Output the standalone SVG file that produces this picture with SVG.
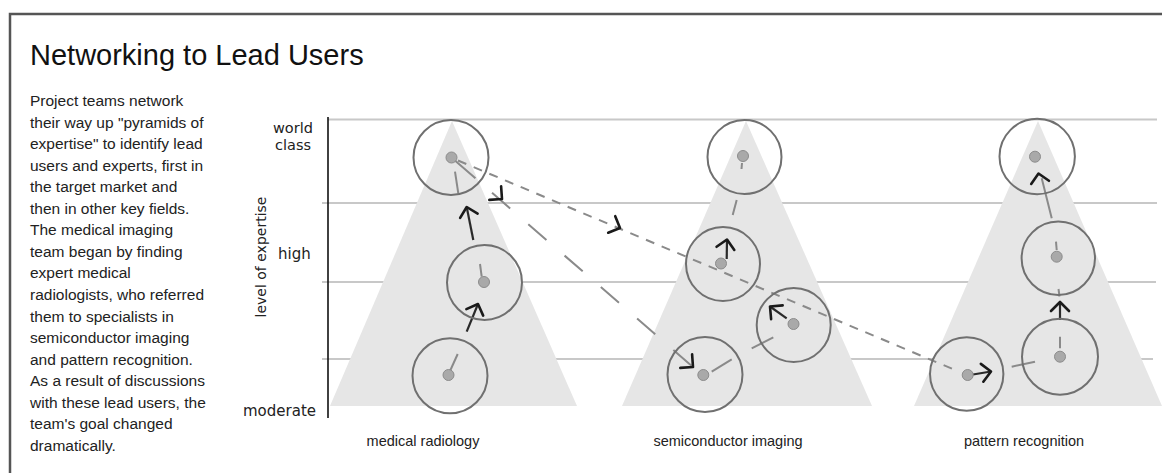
<svg xmlns="http://www.w3.org/2000/svg" width="1162" height="473" viewBox="0 0 1162 473">
<style>
.frame{fill:none;stroke:#555;stroke-width:2.5}
.title{font-family:"Liberation Sans",Arial,sans-serif;font-size:29px;fill:#111}
.para{font-family:"Liberation Sans",Arial,sans-serif;font-size:15.5px;fill:#222}
.ax{font-family:"DejaVu Sans",sans-serif;font-size:15px;fill:#222}
.axs{font-family:"DejaVu Sans",sans-serif;font-size:14.5px;fill:#222}
.axv{font-family:"DejaVu Sans",sans-serif;font-size:14px;fill:#222;text-anchor:middle}
.cat{font-family:"Liberation Sans",Arial,sans-serif;font-size:14.5px;fill:#222;text-anchor:middle}
.grid{stroke:#c8c8c8;stroke-width:2}
.axis{stroke:#111;stroke-width:1.6}
.pyr{fill:#e6e6e6}
.ring{fill:none;stroke:#707070;stroke-width:2}
.dot{fill:#a9a9a9;stroke:#8c8c8c;stroke-width:1}
.seg{stroke:#8a8a8a;stroke-width:2;fill:none}
.shaft{stroke:#2a2a2a;stroke-width:2.2;fill:none}
.fine{stroke:#8a8a8a;stroke-width:2;stroke-dasharray:9 8;fill:none}
.long{stroke:#8a8a8a;stroke-width:2;fill:none;stroke-dasharray:31 22 24 24 24 24 24 24 24 24 24 24 24 24}
.chev{fill:none;stroke:#1a1a1a;stroke-width:2.6;stroke-linecap:round;stroke-linejoin:round}
</style>
<defs>
<path id="chev" class="chev" d="M-9,-9 L0,0 L-9,9"/>
</defs>
<rect x="0" y="0" width="1162" height="473" fill="#fff"/>
<rect class="frame" x="10" y="14" width="1200" height="500"/>

<g id="title">
<text class="title" x="30" y="65">Networking to Lead Users</text>
</g>

<g id="description">
<text class="para" x="30" y="106">Project teams network</text>
<text class="para" x="30" y="127.5">their way up "pyramids of</text>
<text class="para" x="30" y="149.1">expertise" to identify lead</text>
<text class="para" x="30" y="170.6">users and experts, first in</text>
<text class="para" x="30" y="192.2">the target market and</text>
<text class="para" x="30" y="213.7">then in other key fields.</text>
<text class="para" x="30" y="235.3">The medical imaging</text>
<text class="para" x="30" y="256.8">team began by finding</text>
<text class="para" x="30" y="278.4">expert medical</text>
<text class="para" x="30" y="299.9">radiologists, who referred</text>
<text class="para" x="30" y="321.5">them to specialists in</text>
<text class="para" x="30" y="343">semiconductor imaging</text>
<text class="para" x="30" y="364.6">and pattern recognition.</text>
<text class="para" x="30" y="386.1">As a result of discussions</text>
<text class="para" x="30" y="407.7">with these lead users, the</text>
<text class="para" x="30" y="429.2">team's goal changed</text>
<text class="para" x="30" y="450.8">dramatically.</text>
</g>

<g id="grid">
<line class="grid" x1="328" y1="119.5" x2="1157" y2="119.5"/>
<line class="grid" x1="322" y1="203" x2="1157" y2="203"/>
<line class="grid" x1="322" y1="282" x2="1156" y2="282"/>
<line class="grid" x1="322" y1="359" x2="1153" y2="359"/>
</g>

<g id="axis">
<line class="axis" x1="328" y1="117" x2="328" y2="418"/>
<text class="axs" x="273" y="132.5">world</text>
<text class="axs" x="275" y="150">class</text>
<text class="ax" x="278" y="259">high</text>
<text class="ax" x="243" y="416">moderate</text>
<text class="axv" transform="translate(266,257) rotate(-90)">level of expertise</text>
</g>

<g id="pyramids">
<polygon id="pyr-medical" class="pyr" points="452,121 330,406 577,406"/>
<polygon id="pyr-semi" class="pyr" points="746,121 622,406 872,406"/>
<polygon id="pyr-pattern" class="pyr" points="1038,121 914,406 1162,406"/>
</g>

<g id="connectors">
<line class="fine" x1="458" y1="160.5" x2="955" y2="370"/>
<line class="long" x1="452" y1="158" x2="693" y2="367"/>
<use href="#chev" transform="translate(502,199) rotate(41)"/>
<use href="#chev" transform="translate(693,367) rotate(41)"/>
<use href="#chev" transform="translate(620,228) rotate(23)"/>
<line class="seg" x1="450" y1="371" x2="457.7" y2="354"/>
<line class="shaft" x1="466.7" y1="331.7" x2="478" y2="304"/>
<use href="#chev" transform="translate(478,304) rotate(-69)"/>
<line class="seg" x1="480" y1="264" x2="481.7" y2="276.7"/>
<line class="shaft" x1="473.3" y1="240" x2="466.7" y2="207"/>
<use href="#chev" transform="translate(466.7,207) rotate(-104)"/>
<line class="seg" x1="455" y1="171.7" x2="458.3" y2="193.3"/>
<line class="seg" x1="711.7" y1="371.7" x2="731.7" y2="359.3"/>
<line class="seg" x1="751.7" y1="348.3" x2="773.3" y2="337.3"/>
<line class="shaft" x1="786.7" y1="318.3" x2="770" y2="306.5"/>
<use href="#chev" transform="translate(770,306.5) rotate(-140)"/>
<line class="shaft" x1="726.7" y1="259" x2="727" y2="239.5"/>
<use href="#chev" transform="translate(727,239.5) rotate(-80)"/>
<line class="seg" x1="732.7" y1="215" x2="736.7" y2="200"/>
<line class="seg" x1="742" y1="163" x2="741.5" y2="169"/>
<line class="shaft" x1="973" y1="374.5" x2="991" y2="371.5"/>
<use href="#chev" transform="translate(991,371.5) rotate(-8)"/>
<line class="seg" x1="1011.7" y1="366.7" x2="1035" y2="361.7"/>
<line class="seg" x1="1060" y1="336.7" x2="1060" y2="348.3"/>
<line class="shaft" x1="1060" y1="320" x2="1060" y2="302"/>
<use href="#chev" transform="translate(1060,302) rotate(-90)"/>
<line class="seg" x1="1058.5" y1="289" x2="1059.5" y2="296.5"/>
<line class="seg" x1="1056" y1="241.7" x2="1056.7" y2="250"/>
<line class="seg" x1="1051.7" y1="218.3" x2="1041.7" y2="178.3"/>
<use href="#chev" transform="translate(1038.5,173.5) rotate(-100)"/>
</g>

<g id="node-med-top"><circle class="ring" cx="451" cy="157.5" r="37.5"/><circle class="dot" cx="451.5" cy="157.5" r="5.5"/></g>
<g id="node-med-mid"><circle class="ring" cx="484.5" cy="282.5" r="37.5"/><circle class="dot" cx="484" cy="282" r="5.5"/></g>
<g id="node-med-low"><circle class="ring" cx="450" cy="375.8" r="37.5"/><circle class="dot" cx="448.5" cy="375" r="5.5"/></g>

<g id="node-semi-top"><circle class="ring" cx="744.5" cy="157" r="37"/><circle class="dot" cx="743" cy="156" r="5.5"/></g>
<g id="node-semi-mid"><circle class="ring" cx="723" cy="264" r="37"/><circle class="dot" cx="721" cy="263.5" r="5.5"/></g>
<g id="node-semi-right"><circle class="ring" cx="793.7" cy="325" r="37"/><circle class="dot" cx="793.5" cy="324" r="5.5"/></g>
<g id="node-semi-low"><circle class="ring" cx="705" cy="374.5" r="37.5"/><circle class="dot" cx="703.3" cy="375" r="5.5"/></g>

<g id="node-pat-top"><circle class="ring" cx="1037.2" cy="156.5" r="37.7"/><circle class="dot" cx="1035" cy="156.7" r="5.5"/></g>
<g id="node-pat-mid"><circle class="ring" cx="1058.3" cy="258.3" r="36.7"/><circle class="dot" cx="1056.7" cy="256.7" r="5.5"/></g>
<g id="node-pat-lowright"><circle class="ring" cx="1060" cy="356.7" r="38"/><circle class="dot" cx="1060" cy="356.7" r="5.5"/></g>
<g id="node-pat-lowleft"><circle class="ring" cx="966.7" cy="374" r="36.7"/><circle class="dot" cx="967.7" cy="375" r="5.5"/></g>

<g id="labels">
<text class="cat" x="423" y="446">medical radiology</text>
<text class="cat" x="728" y="446">semiconductor imaging</text>
<text class="cat" x="1024" y="446">pattern recognition</text>
</g>
</svg>
